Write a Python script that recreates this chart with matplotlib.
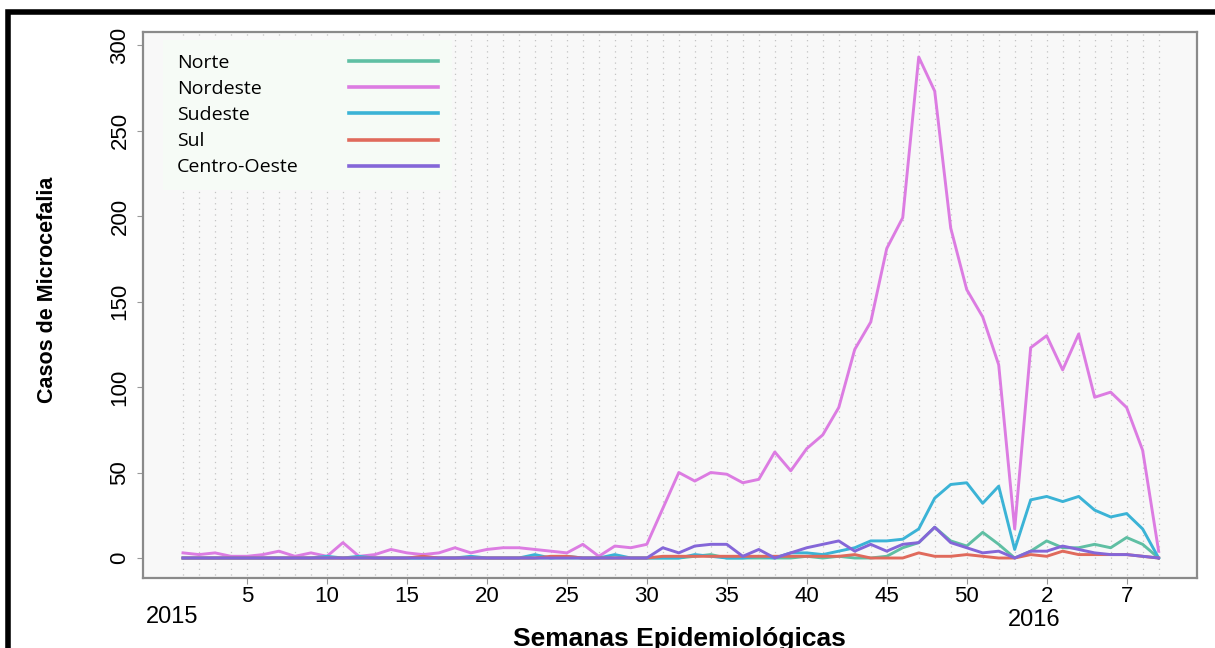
import numpy as np
import matplotlib
matplotlib.use("Agg")
import matplotlib.pyplot as plt
from matplotlib.patches import Rectangle
import matplotlib.transforms as mtransforms

# epidemiological weeks: 2015 w1..w53 followed by 2016 w1..w9
weeks = list(range(1, 63))
tick_pos = [5, 10, 15, 20, 25, 30, 35, 40, 45, 50, 55, 60]
tick_labels = ["5", "10", "15", "20", "25", "30", "35", "40", "45", "50", "2", "7"]

regions = ["Norte", "Nordeste", "Sudeste", "Sul", "Centro-Oeste"]
colors = ["#5fbfa3", "#dc7ce2", "#3bb3d6", "#e06a5c", "#8466d8"]

norte = [0, 0, 0, 0, 0, 0, 0, 0, 0, 0,
         0, 0, 0, 0, 0, 0, 0, 0, 0, 0,
         0, 0, 0, 0, 0, 0, 0, 0, 0, 0,
         0, 0, 1, 2, 0, 0, 0, 0, 0, 1,
         0, 1, 0, 0, 1, 6, 9, 18, 10, 7,
         15, 8, 0,
         4, 10, 6, 6, 8, 6, 12, 8, 0]
nordeste = [3, 2, 3, 1, 1, 2, 4, 1, 3, 1,
            9, 1, 2, 5, 3, 2, 3, 6, 3, 5,
            6, 6, 5, 4, 3, 8, 1, 7, 6, 8,
            29, 50, 45, 50, 49, 44, 46, 62, 51, 64,
            72, 88, 122, 138, 181, 199, 293, 273, 193, 157,
            141, 113, 17,
            123, 130, 110, 131, 94, 97, 88, 63, 4]
sudeste = [0, 0, 0, 0, 0, 0, 0, 0, 0, 1,
           0, 1, 0, 0, 0, 0, 0, 0, 1, 0,
           0, 0, 2, 0, 1, 0, 0, 2, 0, 0,
           0, 0, 2, 1, 0, 0, 1, 0, 3, 3,
           2, 4, 6, 10, 10, 11, 17, 35, 43, 44,
           32, 42, 5,
           34, 36, 33, 36, 28, 24, 26, 17, 0]
sul = [0, 0, 0, 0, 0, 0, 0, 0, 0, 0,
       0, 0, 0, 0, 0, 1, 0, 0, 0, 0,
       0, 0, 0, 1, 1, 0, 0, 0, 0, 0,
       1, 1, 1, 1, 1, 1, 1, 1, 1, 1,
       1, 1, 2, 0, 0, 0, 3, 1, 1, 2,
       1, 0, 0,
       2, 1, 4, 2, 2, 2, 2, 1, 0]
centro_oeste = [0, 0, 0, 0, 0, 0, 0, 0, 0, 0,
                0, 0, 0, 0, 0, 0, 0, 0, 0, 0,
                0, 0, 0, 0, 0, 0, 0, 0, 0, 0,
                6, 3, 7, 8, 8, 1, 5, 0, 3, 6,
                8, 10, 4, 8, 4, 8, 9, 18, 9, 6,
                3, 4, 0,
                4, 4, 7, 5, 3, 2, 2, 1, 0]

series = [norte, nordeste, sudeste, sul, centro_oeste]

fig = plt.figure(figsize=(12.15, 6.48), dpi=100)
ax = fig.add_axes([0.1177, 0.108, 0.8675, 0.8426])
ax.set_facecolor("#f8f8f8")

# dotted vertical guide for every week
ax.vlines(weeks, -20, 320, colors="#c4c4c4", linewidth=0.9,
          linestyles=(0, (1, 3.5)), zorder=0)

for name, vals, c in zip(regions, series, colors):
    ax.plot(weeks, vals, color=c, linewidth=2.1, label=name, zorder=2)

ax.set_xlim(-1.5, 64.4)
ax.set_ylim(-11.7, 307.6)
ax.set_xticks(tick_pos)
ax.set_xticklabels(tick_labels, fontsize=16, family="Liberation Sans")
ax.set_yticks([0, 50, 100, 150, 200, 250, 300])
ax.set_yticklabels(["0", "50", "100", "150", "200", "250", "300"],
                   fontsize=16, family="Liberation Sans",
                   rotation=90, va="center")
ax.tick_params(axis="x", length=4, pad=2, color="#999999")
ax.tick_params(axis="y", length=4, pad=5, color="#999999")
for sp in ax.spines.values():
    sp.set_color("#8a8a8a")
    sp.set_linewidth(1.6)

ax.set_ylabel("Casos de Microcefalia", fontsize=15.5, fontweight="bold",
              family="Liberation Sans")
ax.yaxis.set_label_coords(-0.081, 0.527)
ax.set_xlabel("Semanas Epidemiológicas", fontsize=19, fontweight="bold",
              family="Liberation Sans", va="top")
ax.xaxis.set_label_coords(0.509, -0.09)

# year markers under the week numbers
trans = mtransforms.blended_transform_factory(ax.transData, ax.transAxes)
ax.text(0.3, -0.071, "2015", transform=trans, ha="center", va="center",
        fontsize=17, family="Liberation Sans")
ax.text(54.2, -0.077, "2016", transform=trans, ha="center", va="center",
        fontsize=17, family="Liberation Sans")

leg = ax.legend(loc="upper left", bbox_to_anchor=(0.019, 0.985),
                borderaxespad=0, markerfirst=False, handlelength=4.6,
                handletextpad=2.6, labelspacing=0.42, borderpad=0.7,
                frameon=True, facecolor="#f6fbf6", edgecolor="none",
                framealpha=1, fancybox=False,
                prop={"family": "Open Sans", "size": 14})
for line in leg.get_lines():
    line.set_linewidth(2.6)

# keep labels left-aligned and line samples in one column
fig.canvas.draw()
renderer = fig.canvas.get_renderer()
widths = [t.get_window_extent(renderer).width for t in leg.get_texts()]
rows = leg._legend_handle_box.get_children()[0].get_children()
for row, w in zip(rows, widths):
    row.sep += (max(widths) - w) * 72 / fig.dpi

# thick black frame around the figure
fig.patches.append(Rectangle((0.0062, -0.5), 2, 1.481, transform=fig.transFigure,
                             fill=False, edgecolor="black", linewidth=4))

fig.savefig("out.png", dpi=100)
